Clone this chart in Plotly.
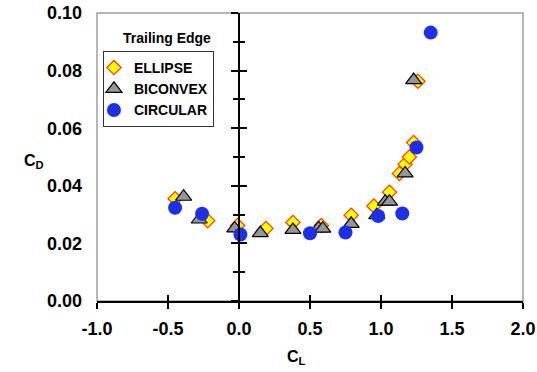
import plotly.graph_objects as go

# Data
ellipse_cl = [-0.45, -0.22, -0.01, 0.19, 0.38, 0.58, 0.79, 0.95, 1.06, 1.13, 1.17, 1.20, 1.23, 1.26]
ellipse_cd = [0.0355, 0.0279, 0.0262, 0.0252, 0.0273, 0.0262, 0.0298, 0.0330, 0.0378, 0.0443, 0.0475, 0.0500, 0.0550, 0.0763]

biconvex_cl = [-0.39, -0.28, -0.03, 0.15, 0.38, 0.56, 0.59, 0.79, 0.97, 1.03, 1.06, 1.17, 1.23]
biconvex_cd = [0.0362, 0.0283, 0.0252, 0.0236, 0.0247, 0.0253, 0.0251, 0.0268, 0.0298, 0.0345, 0.0345, 0.0443, 0.0767]

circular_cl = [-0.45, -0.26, 0.01, 0.50, 0.75, 0.98, 1.15, 1.25, 1.35]
circular_cd = [0.0324, 0.0303, 0.0231, 0.0235, 0.0238, 0.0295, 0.0304, 0.0533, 0.0932]

x_ticks = [-1.0, -0.5, 0.0, 0.5, 1.0, 1.5, 2.0]
y_ticks = [0.00, 0.02, 0.04, 0.06, 0.08, 0.10]

FONT = "Liberation Sans, Arial, sans-serif"

fig = go.Figure()
fig.add_trace(go.Scatter(
    x=ellipse_cl, y=ellipse_cd, mode="markers", name="ELLIPSE",
    marker=dict(symbol="diamond", size=11, color="#ffff00",
                line=dict(color="#ff3a00", width=1.2))))
fig.add_trace(go.Scatter(
    x=biconvex_cl, y=biconvex_cd, mode="markers", name="BICONVEX",
    marker=dict(symbol="triangle-up", size=14, color="#969696",
                line=dict(color="#000000", width=1.2))))
fig.add_trace(go.Scatter(
    x=circular_cl, y=circular_cd, mode="markers", name="CIRCULAR",
    marker=dict(symbol="circle", size=14, color="#1f2fe6",
                line=dict(color="#1f2fe6", width=0))))

tickfont = dict(family=FONT, size=18, color="black", weight="bold")

fig.update_layout(
    width=537, height=372,
    margin=dict(l=97, r=14, t=13, b=71),
    paper_bgcolor="white", plot_bgcolor="white",
    showlegend=True,
    legend=dict(
        x=0.014, y=0.868, xanchor="left", yanchor="top",
        bgcolor="white", bordercolor="#333333", borderwidth=1,
        font=dict(family=FONT, size=14, color="black", weight="bold"),
        itemwidth=30, tracegroupgap=0, indentation=-10,
    ),
    xaxis=dict(
        range=[-1.0, 2.0], tickvals=x_ticks, ticktext=[f"{v:.1f}" for v in x_ticks],
        showgrid=False, zeroline=False, automargin=False,
        showline=True, linecolor="black", linewidth=2,
        ticks="outside", ticklen=6, tickwidth=2, tickcolor="black",
        tickfont=tickfont, ticklabelstandoff=4,
    ),
    xaxis2=dict(
        range=[-1.0, 2.0], overlaying="x", anchor="y", side="bottom", automargin=False,
        tickvals=x_ticks, showticklabels=False, showgrid=False, zeroline=False,
        ticks="inside", ticklen=6, tickwidth=2, tickcolor="black", showline=False,
    ),
    yaxis=dict(
        range=[0, 0.10], tickvals=y_ticks, ticktext=[f"{v:.2f}" for v in y_ticks],
        showgrid=False, zeroline=False, showline=False, automargin=False,
        ticks="", tickfont=tickfont, ticklabelstandoff=14,
    ),
    yaxis2=dict(
        range=[0, 0.10], overlaying="y", anchor="free", position=1/3, side="left",
        dtick=0.02, tick0=0, showticklabels=False, showgrid=False, zeroline=False,
        showline=True, linecolor="black", linewidth=2, automargin=False,
        ticks="outside", ticklen=7, tickwidth=2, tickcolor="black",
        minor=dict(dtick=0.01, ticks="outside", ticklen=5, tickwidth=2, tickcolor="black"),
    ),
    yaxis3=dict(
        range=[0, 0.10], overlaying="y", anchor="free", position=1/3, side="left",
        dtick=0.02, tick0=0, showticklabels=False, showgrid=False, zeroline=False,
        showline=False, automargin=False,
        ticks="inside", ticklen=7, tickwidth=2, tickcolor="black",
        minor=dict(dtick=0.01, ticks="inside", ticklen=5, tickwidth=2, tickcolor="black"),
    ),
    shapes=[dict(type="rect", xref="paper", yref="paper", x0=0, y0=0, x1=1, y1=1,
                 line=dict(color="#a0a0a0", width=1.5), layer="below")],
    annotations=[
        dict(text="Trailing Edge", xref="paper", yref="paper", x=0.165, y=0.912,
             xanchor="center", yanchor="middle", showarrow=False,
             font=dict(family=FONT, size=14, color="black", weight="bold")),
        dict(text="C<sub>D</sub>", xref="paper", yref="paper", x=-0.148, y=0.485,
             xanchor="center", yanchor="middle", showarrow=False,
             font=dict(family=FONT, size=16, color="black", weight="bold")),
        dict(text="C<sub>L</sub>", xref="paper", yref="paper", x=0.468, y=-0.195,
             xanchor="center", yanchor="middle", showarrow=False,
             font=dict(family=FONT, size=16, color="black", weight="bold")),
    ],
)

# dummy traces to activate the overlay axes (no visible marks)
fig.add_trace(go.Scatter(x=[None], y=[None], xaxis="x2", yaxis="y2", showlegend=False, hoverinfo="skip"))
fig.add_trace(go.Scatter(x=[None], y=[None], xaxis="x2", yaxis="y3", showlegend=False, hoverinfo="skip"))

fig.write_html("out.html")
